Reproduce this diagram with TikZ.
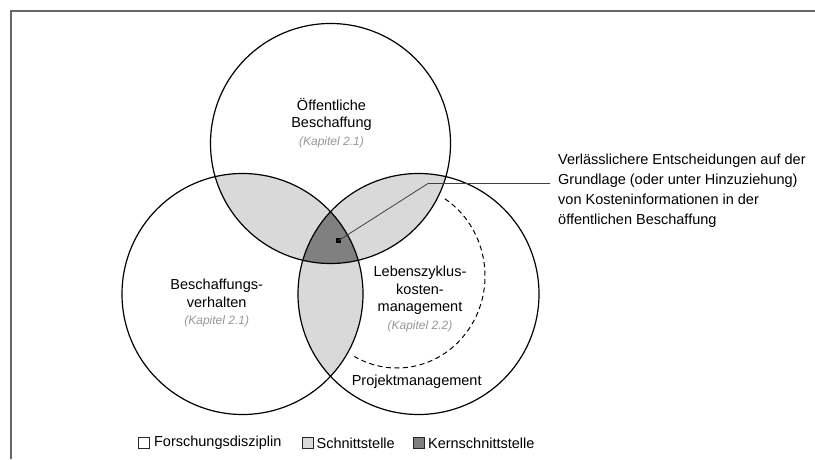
\documentclass[tikz,border=0pt]{standalone}
\usepackage{fontspec}
\setmainfont{Liberation Sans}
\usetikzlibrary{positioning,calc}

\definecolor{kapgrau}{RGB}{150,150,150}
\definecolor{hellgrau}{RGB}{217,217,217}
\definecolor{dunkelgrau}{RGB}{128,128,128}
\newcommand{\kapitel}[1]{{\fontsize{12}{17}\selectfont\itshape\color{kapgrau}#1}}

\begin{document}
\begin{tikzpicture}[x=1pt, y=1pt,
        kreis/.style={line width=1.2pt},
        schnitt/.style={fill=hellgrau},
        kern/.style={fill=dunkelgrau},
        label/.style={align=center, inner sep=0pt, font=\fontsize{14.5}{17.5}\selectfont},
        kasten/.style={draw=black!85, line width=0.8pt, minimum size=11pt, inner sep=0pt},
        rahmen/.style={draw=black!60, line width=1.5pt},
        zeiger/.style={draw=black!75, line width=0.8pt}]
        \useasboundingbox (0,0) rectangle (815,459);

        % Rahmen
        \draw[rahmen] (10,448) -- (815,448);
        \draw[rahmen] (11,448.75) -- (11,0);

        % Mittelpunkte
        \coordinate (oben) at (330.5,315.5);
        \coordinate (links) at (242.5,165);
        \coordinate (rechts) at (418.5,165);

        % Schnittstellen
        \begin{scope}
            \clip (oben) circle [radius=120pt];
            \fill[schnitt] (links) circle [radius=120.5pt];
            \fill[schnitt] (rechts) circle [radius=120.5pt];
        \end{scope}
        \begin{scope}
            \clip (links) circle [radius=120.5pt];
            \fill[schnitt] (rechts) circle [radius=120.5pt];
        \end{scope}

        % Kernschnittstelle
        \begin{scope}
            \clip (oben) circle [radius=120pt];
            \clip (links) circle [radius=120.5pt];
            \fill[kern] (rechts) circle [radius=120.5pt];
        \end{scope}

        % Disziplinen
        \draw[kreis] (oben) circle [radius=120pt];
        \draw[kreis] (links) circle [radius=120.5pt];
        \draw[kreis] (rechts) circle [radius=120.5pt];

        % Projektmanagement
        \draw[dash pattern=on 5pt off 3.5pt, line width=1pt] ($(397,183)+(57:88pt and 92pt)$)
            arc [start angle=57, end angle=-119, x radius=88pt, y radius=92pt];

        % Beschriftung
        \node[label] (oeb) at (331.5,336) {Öffentliche\\Beschaffung\\\kapitel{(Kapitel 2.1)}};
        \node[label] (bv) at (216.7,156) {Beschaffungs-\\verhalten\\\kapitel{(Kapitel 2.1)}};
        \node[label] (lzk) at (420,160) {Lebenszyklus-\\kosten-\\management\\\kapitel{(Kapitel 2.2)}};
        \node[label] (pm) at (416.7,77.3) {Projektmanagement};

        % Kernaussage
        \node[label, align=left, anchor=west, font=\fontsize{14.5}{20}\selectfont] (notiz) at (558,268)
            {Verlässlichere Entscheidungen auf der\\Grundlage (oder unter Hinzuziehung)\\von Kosteninformationen in der\\öffentlichen Beschaffung};
        \node[fill=black, minimum size=5pt, inner sep=0pt] (punkt) at (338.3,218.3) {};
        \coordinate (knick) at (428,275.5);
        \coordinate (ende) at (550,275.5);
        \draw[zeiger] (punkt.center) -- (knick) -- (ende);

        % Legende
        \node[kasten, fill=white] (kd) at (144,16) {};
        \node[label, right=4pt of kd] (td) {Forschungsdisziplin};
        \node[kasten, fill=hellgrau] (ks) at (307.5,16) {};
        \node[label, right=3pt of ks] (ts) {Schnittstelle};
        \node[kasten, fill=dunkelgrau] (kk) at (419,16) {};
        \node[label, right=3pt of kk] (tk) {Kernschnittstelle};
\end{tikzpicture}
\end{document}
